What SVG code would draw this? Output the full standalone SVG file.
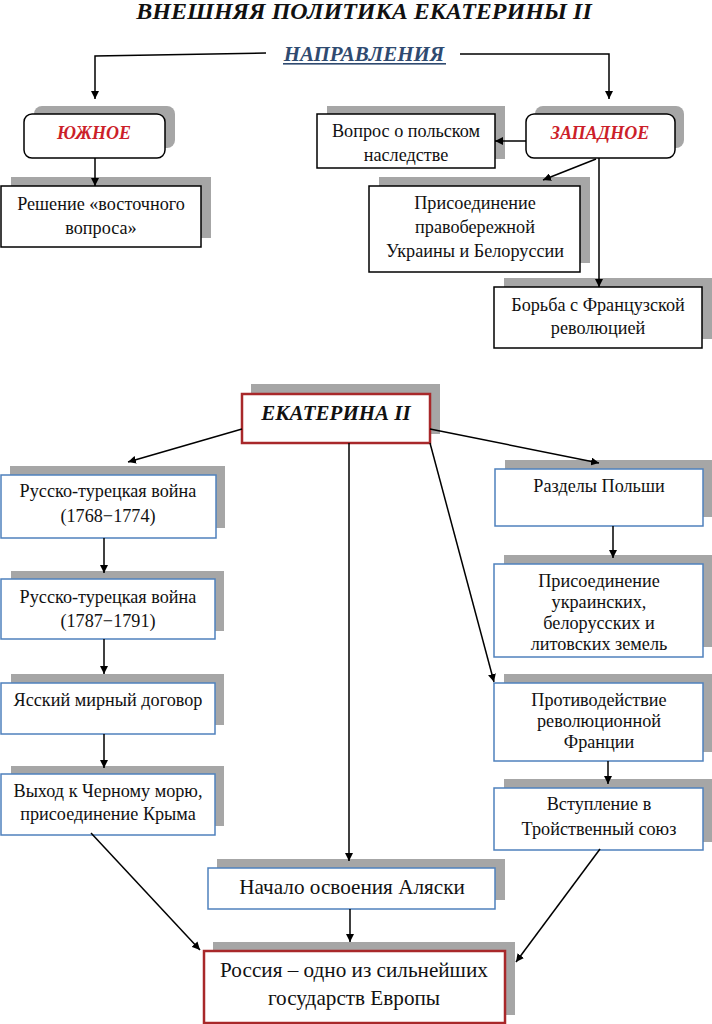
<svg xmlns="http://www.w3.org/2000/svg" width="712" height="1024" viewBox="0 0 712 1024">
<defs>
<marker id="ah" viewBox="0 0 10 10" refX="10" refY="5" markerWidth="8" markerHeight="8" orient="auto" markerUnits="userSpaceOnUse"><path d="M0,0 L10,5 L0,10 z" fill="#000"/></marker>
<style>
.sh{fill:#a6a6a6}
.bk{fill:#fff;stroke:#000;stroke-width:1.5}
.bl{fill:#fff;stroke:#4f81bd;stroke-width:1.5}
.rd{fill:#fff;stroke:#a8282a;stroke-width:2.5}
.t{font-family:"Liberation Serif","Times New Roman",serif;font-size:18.2px;fill:#111;text-anchor:middle}
.big{font-size:21.2px}
.h{font-family:"Liberation Serif","Times New Roman",serif;font-weight:bold;font-style:italic;text-anchor:middle}
.red{fill:#cc1f2a;font-size:18px}
.c{fill:none;stroke:#000;stroke-width:1.5}
</style>
</defs>
<rect width="712" height="1024" fill="#fff"/>
<text class="h" x="364" y="19" font-size="24" fill="#111">ВНЕШНЯЯ ПОЛИТИКА ЕКАТЕРИНЫ II</text>
<g id="napr">
<text class="h" x="364" y="61" font-size="21" fill="#2f4a70">НАПРАВЛЕНИЯ</text>
<rect x="283" y="63" width="163" height="1.6" fill="#2f4a70"/>
</g>
<g id="yuzhnoe">
<rect class="sh" x="34" y="106" width="141" height="42" rx="8"/>
<rect class="bk" x="24" y="114" width="141" height="44" rx="8"/>
<text class="h red" x="94" y="139">ЮЖНОЕ</text>
</g>
<g id="zapadnoe">
<rect class="sh" x="535" y="106" width="149" height="42" rx="8"/>
<rect class="bk" x="526" y="114" width="149" height="44" rx="8"/>
<text class="h red" x="600" y="139">ЗАПАДНОЕ</text>
</g>
<g id="vopros">
<rect class="sh" x="327" y="106" width="178" height="53"/>
<rect class="bk" x="317" y="114" width="178" height="54"/>
<text class="t" x="406" y="137">Вопрос о польском</text>
<text class="t" x="406" y="161">наследстве</text>
</g>
<g id="reshenie">
<rect class="sh" x="11" y="177" width="200" height="61"/>
<rect class="bk" x="1" y="186" width="200" height="61"/>
<text class="t" x="101" y="210">Решение «восточного</text>
<text class="t" x="101" y="234">вопроса»</text>
</g>
<g id="prisoed1">
<rect class="sh" x="379" y="177" width="211" height="86"/>
<rect class="bk" x="369" y="186" width="211" height="86"/>
<text class="t" x="475" y="209">Присоединение</text>
<text class="t" x="475" y="233">правобережной</text>
<text class="t" x="475" y="257">Украины и Белоруссии</text>
</g>
<g id="borba">
<rect class="sh" x="504" y="278" width="208" height="61"/>
<rect class="bk" x="494" y="287" width="208" height="61"/>
<text class="t" x="598" y="311">Борьба с Французской</text>
<text class="t" x="598" y="334">революцией</text>
</g>
<g id="ekaterina">
<rect class="sh" x="251" y="384" width="189" height="50"/>
<rect class="rd" x="242" y="394" width="188" height="49"/>
<text class="h" x="336" y="420" font-size="21" fill="#111">ЕКАТЕРИНА II</text>
</g>
<g id="war1">
<rect class="sh" x="10" y="466" width="215" height="62"/>
<rect class="bl" x="1" y="475" width="215" height="63"/>
<text class="t" x="108" y="497">Русско-турецкая война</text>
<text class="t" x="108" y="522">(1768−1774)</text>
</g>
<g id="war2">
<rect class="sh" x="11" y="571" width="213" height="60"/>
<rect class="bl" x="1" y="579" width="214" height="60"/>
<text class="t" x="108" y="603">Русско-турецкая война</text>
<text class="t" x="108" y="627">(1787−1791)</text>
</g>
<g id="yassy">
<rect class="sh" x="11" y="674" width="213" height="51"/>
<rect class="bl" x="1" y="683" width="214" height="51"/>
<text class="t" x="108" y="706">Ясский мирный договор</text>
</g>
<g id="vyhod">
<rect class="sh" x="11" y="766" width="213" height="60"/>
<rect class="bl" x="1" y="774" width="214" height="61"/>
<text class="t" x="108" y="797">Выход к Черному морю,</text>
<text class="t" x="108" y="820">присоединение Крыма</text>
</g>
<g id="razdely">
<rect class="sh" x="505" y="460" width="207" height="57"/>
<rect class="bl" x="495" y="469" width="208" height="57"/>
<text class="t" x="599" y="492">Разделы Польши</text>
</g>
<g id="prisoed2">
<rect class="sh" x="504" y="555" width="208" height="92"/>
<rect class="bl" x="494" y="564" width="209" height="93"/>
<text class="t" x="599" y="587">Присоединение</text>
<text class="t" x="599" y="608">украинских,</text>
<text class="t" x="599" y="629">белорусских и</text>
<text class="t" x="599" y="650">литовских земель</text>
</g>
<g id="protiv">
<rect class="sh" x="504" y="674" width="208" height="78"/>
<rect class="bl" x="494" y="683" width="209" height="78"/>
<text class="t" x="599" y="706">Противодействие</text>
<text class="t" x="599" y="727">революционной</text>
<text class="t" x="599" y="748">Франции</text>
</g>
<g id="vstuplenie">
<rect class="sh" x="504" y="779" width="208" height="63"/>
<rect class="bl" x="494" y="788" width="209" height="62"/>
<text class="t" x="599" y="810">Вступление в</text>
<text class="t" x="599" y="835">Тройственный союз</text>
</g>
<g id="alaska">
<rect class="sh" x="217" y="859" width="288" height="41"/>
<rect class="bl" x="208" y="868" width="287" height="41"/>
<text class="t big" x="352" y="894">Начало освоения Аляски</text>
</g>
<g id="rossiya">
<rect class="sh" x="213" y="942" width="302" height="73"/>
<rect class="rd" x="204" y="951" width="301" height="72"/>
<text class="t big" x="354" y="977">Россия – одно из сильнейших</text>
<text class="t big" x="354" y="1005">государств Европы</text>
</g>
<g id="connectors">
<path class="c" d="M266,53 L95,56 L95,99" marker-end="url(#ah)"/>
<path class="c" d="M460,54 L609,54 L609,99" marker-end="url(#ah)"/>
<path class="c" d="M95,158 L95,186" marker-end="url(#ah)"/>
<path class="c" d="M526,141 L495,141" marker-end="url(#ah)"/>
<path class="c" d="M596,159 L543,180" marker-end="url(#ah)"/>
<path class="c" d="M599,158 L599,287" marker-end="url(#ah)"/>
<path class="c" d="M242,429 L128,462" marker-end="url(#ah)"/>
<path class="c" d="M430,429 L599,463" marker-end="url(#ah)"/>
<path class="c" d="M349,443 L349,861" marker-end="url(#ah)"/>
<path class="c" d="M430,443 L494,682" marker-end="url(#ah)"/>
<path class="c" d="M104,538 L104,573" marker-end="url(#ah)"/>
<path class="c" d="M104,639 L104,674" marker-end="url(#ah)"/>
<path class="c" d="M104,734 L104,768" marker-end="url(#ah)"/>
<path class="c" d="M613,526 L613,558" marker-end="url(#ah)"/>
<path class="c" d="M608,761 L608,784" marker-end="url(#ah)"/>
<path class="c" d="M350,909 L350,942" marker-end="url(#ah)"/>
<path class="c" d="M91,833 L200,950" marker-end="url(#ah)"/>
<path class="c" d="M600,849 L516,962" marker-end="url(#ah)"/>
</g>
</svg>
